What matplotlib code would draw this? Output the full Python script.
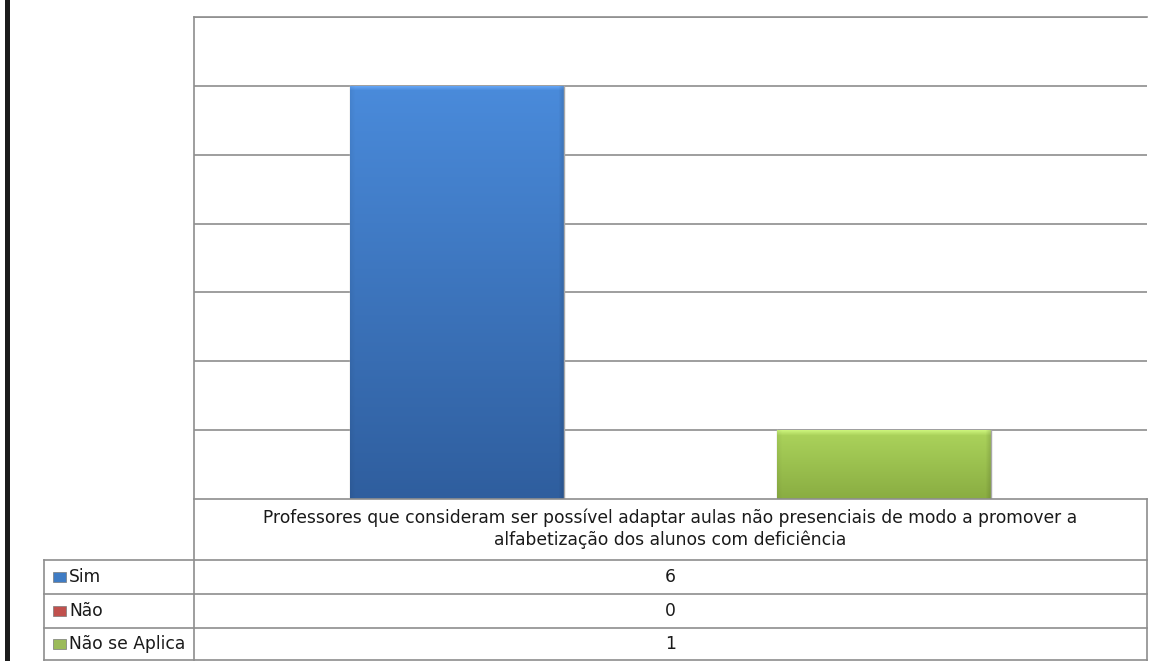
import numpy as np
import matplotlib
matplotlib.use("Agg")
import matplotlib.pyplot as plt
from matplotlib.patches import Rectangle
from matplotlib.lines import Line2D

# chart data
category = ("Professores que consideram ser possível adaptar aulas não presenciais de modo a promover a\n"
            "alfabetização dos alunos com deficiência")
series = ["Sim", "Não", "Não se Aplica"]
values = [6, 0, 1]
y_max = 7

# (top colour, bottom colour) of each series gradient
grad_top = ["#4a8bdb", "#d05050", "#acd45c"]
grad_bottom = ["#2f5e9e", "#9c2f2c", "#8aad42"]
key_colors = ["#3f7cc4", "#c0504d", "#9bbb59"]

W, H = 1159, 661
fig = plt.figure(figsize=(W / 100, H / 100), dpi=100)
fig.patch.set_facecolor("white")


def fx(px):
    return px / W


def fy(py):
    return 1 - py / H


# plot area
x_left, x_right = 194, 1147
y_top, y_base = 17, 499
ax = fig.add_axes([fx(x_left), fy(y_base), fx(x_right) - fx(x_left), fy(y_top) - fy(y_base)])
ax.set_xlim(-0.5, 0.5)
ax.set_ylim(0, y_max)
for s in ax.spines.values():
    s.set_visible(False)
ax.set_xticks([])
ax.set_yticks([])
grid_c = "#8e8e8e"
for g in range(1, y_max + 1):
    ax.axhline(g, color=grid_c, lw=1.2, zorder=1)


def hex_rgb(h):
    return np.array(matplotlib.colors.to_rgb(h))


bar_w = 0.2245
px_per_x = (x_right - x_left) / 1.0
px_per_y = (y_base - y_top) / y_max
for i, v in enumerate(values):
    if v <= 0:
        continue
    xc = (i - 1) * bar_w
    x0, x1 = xc - bar_w / 2, xc + bar_w / 2
    rect = Rectangle((x0, 0), bar_w, v, facecolor="none", edgecolor="none", zorder=3)
    ax.add_patch(rect)
    nw = max(int(bar_w * px_per_x), 2)
    nh = max(int(v * px_per_y), 2)
    t = np.linspace(1, 0, nh)[:, None, None]
    top, bot = hex_rgb(grad_top[i]), hex_rgb(grad_bottom[i])
    img = bot + (top - bot) * t
    img = np.repeat(img, nw, axis=1)
    # soft bevel: lighter top band, slightly darker sides
    bev = 6
    fade = np.linspace(1, 0, bev)
    img[:bev, :, :] = np.clip(img[:bev, :, :] + 0.12 * fade[:, None, None], 0, 1)
    img[:, -bev:, :] *= (1 - 0.12 * fade[::-1])[None, :, None]
    img[:, :bev, :] *= (1 - 0.05 * fade)[None, :, None]
    im = ax.imshow(img, extent=[x0, x1, 0, v], aspect="auto", zorder=3,
                   interpolation="bilinear")
    im.set_clip_path(rect)
    # faint shadow lines on the sides
    ax.plot([x0, x0], [0, v], color="#c4c4c4", lw=1, zorder=2)
    ax.plot([x1, x1], [0, v], color="#a8a8a8", lw=1, zorder=4)

ax.set_xlim(-0.5, 0.5)
ax.set_ylim(0, y_max)


def hline(y, xa, xb, color=grid_c, lw=1.2):
    fig.add_artist(Line2D([fx(xa), fx(xb)], [fy(y), fy(y)], color=color, lw=lw))


def vline(x, ya, yb, color=grid_c, lw=1.2):
    fig.add_artist(Line2D([fx(x), fx(x)], [fy(ya), fy(yb)], color=color, lw=lw))


# outer frame of plot area and data table
hline(y_top, x_left, x_right)
vline(x_left, y_top, H)
hline(y_base, x_left, x_right)
vline(x_right, y_base, H)

row_tops = [560, 594, 628]
row_bot = 660
tbl_left = 44
for y in row_tops:
    hline(y, tbl_left, x_right)
hline(row_bot, tbl_left, x_right)
vline(tbl_left, row_tops[0], row_bot)

txt_kw = dict(fontsize=12.3, color="#1a1a1a", family="DejaVu Sans")
fig.text(fx((x_left + x_right) / 2), fy((y_base + row_tops[0]) / 2 - 1), category,
         ha="center", va="center", linespacing=1.25, **txt_kw)

edges = row_tops + [row_bot]
for i, name in enumerate(series):
    yc = (edges[i] + edges[i + 1]) / 2
    key = Rectangle((fx(53), fy(yc + 5)), fx(13), (10 / H), transform=fig.transFigure,
                    facecolor=key_colors[i], edgecolor="#7a7a7a", lw=0.5)
    fig.add_artist(key)
    fig.text(fx(69), fy(yc), name, ha="left", va="center", **txt_kw)
    fig.text(fx((x_left + x_right) / 2), fy(yc), str(values[i]), ha="center",
             va="center", **txt_kw)

# dark strip at the left edge
fig.add_artist(Rectangle((fx(5), 0), fx(5), 1, transform=fig.transFigure,
                         facecolor="#1c1c1c", edgecolor="none"))

fig.savefig("out.png", dpi=100)
